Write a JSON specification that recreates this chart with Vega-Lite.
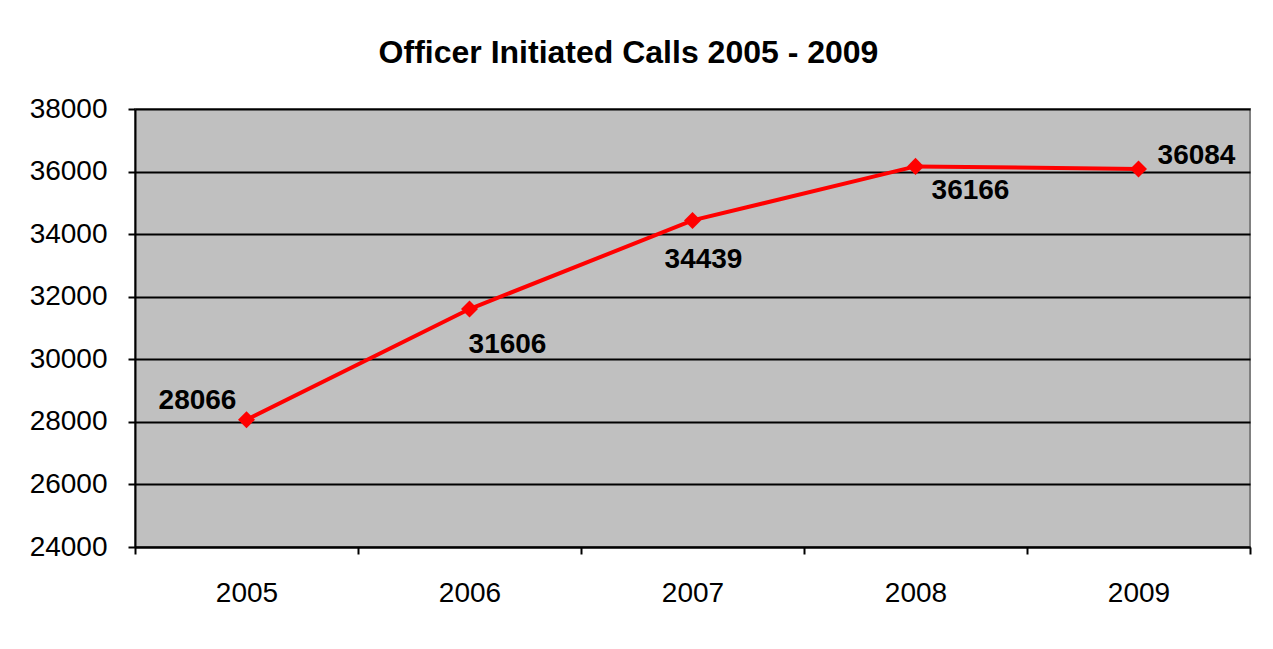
{
  "$schema": "https://vega.github.io/schema/vega-lite/v6.json",
  "width": 1115,
  "height": 438,
  "autosize": {"type": "none"},
  "padding": {"left": 135, "top": 109, "right": 23, "bottom": 102},
  "background": "white",
  "title": {
    "text": "Officer Initiated Calls 2005 - 2009",
    "font": "Liberation Sans",
    "fontSize": 32,
    "fontWeight": "bold",
    "color": "black",
    "anchor": "middle",
    "dx": -64,
    "offset": 25
  },
  "data": {
    "values": [
      {"year": "2005", "calls": 28066},
      {"year": "2006", "calls": 31606},
      {"year": "2007", "calls": 34439},
      {"year": "2008", "calls": 36166},
      {"year": "2009", "calls": 36084}
    ]
  },
  "encoding": {
    "x": {
      "field": "year",
      "type": "ordinal",
      "scale": {"type": "band", "paddingInner": 0, "paddingOuter": 0},
      "axis": {
        "title": null,
        "labelAngle": 0,
        "labelFont": "Liberation Sans",
        "labelFontSize": 28,
        "labelColor": "black",
        "labelPadding": 25,
        "tickBand": "extent",
        "tickSize": 7,
        "tickColor": "black",
        "domainColor": "black",
        "domainWidth": 2,
        "tickWidth": 2,
        "grid": false
      }
    },
    "y": {
      "field": "calls",
      "type": "quantitative",
      "scale": {"domain": [24000, 38000], "nice": false, "zero": false},
      "axis": {
        "title": null,
        "values": [24000, 26000, 28000, 30000, 32000, 34000, 36000, 38000],
        "format": "d",
        "labelFont": "Liberation Sans",
        "labelFontSize": 28,
        "labelColor": "black",
        "labelPadding": 21,
        "tickSize": 7,
        "tickColor": "black",
        "tickWidth": 2,
        "domainColor": "black",
        "domainWidth": 2,
        "grid": true,
        "gridColor": "black",
        "gridWidth": 2,
        "gridOpacity": 1
      }
    }
  },
  "layer": [
    {
      "mark": {"type": "line", "color": "#FF0000", "strokeWidth": 4, "point": {"shape": "diamond", "size": 290, "filled": true, "color": "#FF0000", "opacity": 1}}
    },
    {
      "transform": [{"filter": "datum.year == '2005'"}],
      "mark": {"type": "text", "font": "Liberation Sans", "fontSize": 28, "fontWeight": "bold", "color": "black", "dx": -49, "dy": -19},
      "encoding": {"text": {"field": "calls", "type": "quantitative", "format": "d"}}
    },
    {
      "transform": [{"filter": "datum.year == '2006'"}],
      "mark": {"type": "text", "font": "Liberation Sans", "fontSize": 28, "fontWeight": "bold", "color": "black", "dx": 38, "dy": 36},
      "encoding": {"text": {"field": "calls", "type": "quantitative", "format": "d"}}
    },
    {
      "transform": [{"filter": "datum.year == '2007'"}],
      "mark": {"type": "text", "font": "Liberation Sans", "fontSize": 28, "fontWeight": "bold", "color": "black", "dx": 11, "dy": 40},
      "encoding": {"text": {"field": "calls", "type": "quantitative", "format": "d"}}
    },
    {
      "transform": [{"filter": "datum.year == '2008'"}],
      "mark": {"type": "text", "font": "Liberation Sans", "fontSize": 28, "fontWeight": "bold", "color": "black", "dx": 55, "dy": 25},
      "encoding": {"text": {"field": "calls", "type": "quantitative", "format": "d"}}
    },
    {
      "transform": [{"filter": "datum.year == '2009'"}],
      "mark": {"type": "text", "font": "Liberation Sans", "fontSize": 28, "fontWeight": "bold", "color": "black", "dx": 58, "dy": -13},
      "encoding": {"text": {"field": "calls", "type": "quantitative", "format": "d"}}
    }
  ],
  "config": {
    "view": {"fill": "#C0C0C0", "stroke": "#808080", "strokeWidth": 2}
  }
}
